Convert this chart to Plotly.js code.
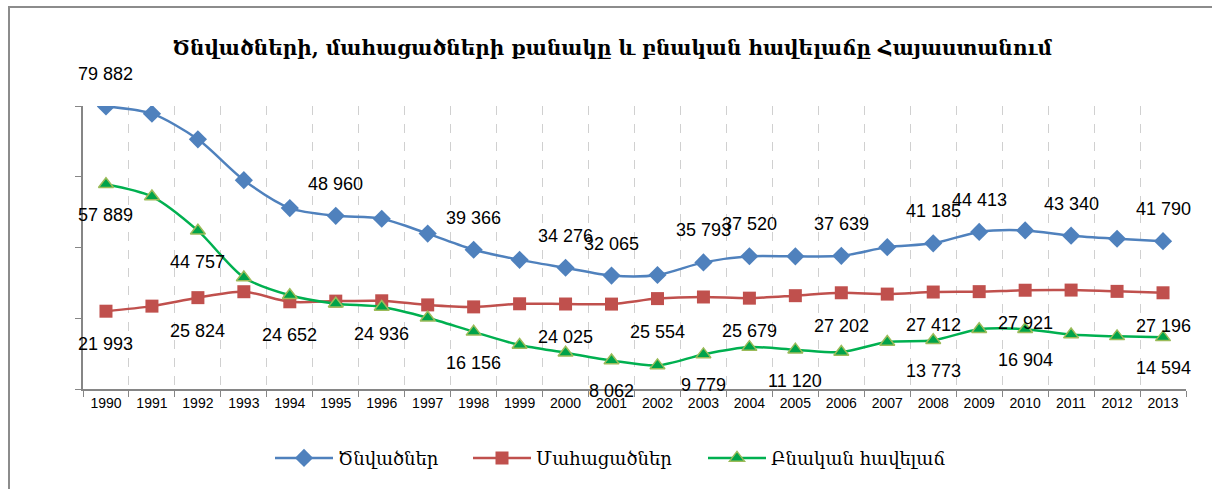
<!DOCTYPE html>
<html>
<head>
<meta charset="utf-8">
<script src="https://cdn.plot.ly/plotly-3.0.1.min.js"></script>
<style>
  html, body { margin: 0; padding: 0; background: #ffffff; }
  #chart { width: 1212px; height: 489px; }
  #frame { position: absolute; left: 8px; top: 6px; width: 1210px; height: 490px;
           border-left: 2px solid #8c8c8c; border-top: 2px solid #8c8c8c; pointer-events: none; }
</style>
</head>
<body>
<div id="chart"></div>
<div id="frame"></div>
<script>
// ---- data ----
const years = ['1990','1991','1992','1993','1994','1995','1996','1997','1998','1999','2000','2001',
               '2002','2003','2004','2005','2006','2007','2008','2009','2010','2011','2012','2013'];
const births = [79882, 77825, 70581, 59041, 51143, 48960, 48134, 43929, 39366, 36502, 34276, 32065,
                32229, 35793, 37520, 37499, 37639, 40105, 41185, 44413, 44825, 43340, 42480, 41790];
const deaths = [21993, 23425, 25824, 27500, 24652, 24842, 24936, 23773, 23210, 24087, 24025, 24003,
                25554, 26014, 25679, 26379, 27202, 26830, 27412, 27520, 27921, 27963, 27599, 27196];
const natural = [57889, 54400, 44757, 31541, 26491, 24118, 23198, 20156, 16156, 12415, 10251, 8062,
                 6675, 9779, 11841, 11120, 10437, 13275, 13773, 16893, 16904, 15377, 14881, 14594];

const seriesNames = ['Ծնվածներ', 'Մահացածներ', 'Բնական հավելաճ'];
const titleText = 'Ծնվածների, մահացածների քանակը և բնական հավելաճը Հայաստանում';

// years whose point carries a data label
const birthsLabelYears  = ['1990','1995','1998','2000','2001','2003','2004','2006','2008','2009','2011','2013'];
const deathsLabelYears  = ['1990','1992','1994','1996','2000','2002','2004','2006','2008','2010','2013'];
const naturalLabelYears = ['1990','1992','1998','2001','2003','2005','2008','2010','2013'];

// ---- helpers ----
function fmt(v) { return String(v).replace(/\B(?=(\d{3})+(?!\d))/g, ' '); }
const labelFont = { family: 'Liberation Sans, Arial, sans-serif', size: 18, color: '#000000' };
function labels(values, labelYears, shift) {
  return labelYears.map(function (yr) {
    const i = years.indexOf(yr);          // category index on the x axis
    return { x: i, y: values[i], xref: 'x', yref: 'y', text: fmt(values[i]),
             showarrow: false, yshift: shift, font: labelFont };
  });
}

const traces = [
  { x: years, y: births, name: seriesNames[0], type: 'scatter', mode: 'lines+markers', legend: 'legend',
    line: { color: '#4F81BD', width: 2.5, shape: 'spline', smoothing: 0.8 },
    marker: { symbol: 'diamond', size: 14, color: '#4F81BD', line: { color: '#4F81BD', width: 0 } } },
  { x: years, y: deaths, name: seriesNames[1], type: 'scatter', mode: 'lines+markers', legend: 'legend2',
    line: { color: '#C0504D', width: 2.5, shape: 'spline', smoothing: 0.8 },
    marker: { symbol: 'square', size: 13, color: '#C0504D', line: { color: '#C0504D', width: 0 } } },
  { x: years, y: natural, name: seriesNames[2], type: 'scatter', mode: 'lines+markers', legend: 'legend3',
    line: { color: '#00B050', width: 2.5, shape: 'spline', smoothing: 0.8 },
    marker: { symbol: 'triangle-up', size: 13, color: '#00A34A', line: { color: '#9BBB59', width: 1.5 } } }
];

const annotations = []
  .concat(labels(births, birthsLabelYears, 32))
  .concat(labels(deaths, deathsLabelYears, -33))
  .concat(labels(natural, naturalLabelYears, -31));

const legendFont = { family: 'DejaVu Serif, serif', size: 18, color: '#000000' };
function legendAt(px) {
  return { orientation: 'h', xref: 'container', x: px / 1212, xanchor: 'left',
           yref: 'container', y: 0.063, yanchor: 'middle', font: legendFont,
           itemwidth: 58, bgcolor: 'rgba(0,0,0,0)' };
}

const layout = {
  width: 1212, height: 489,
  margin: { l: 83, r: 26, t: 106, b: 100 },
  paper_bgcolor: '#ffffff', plot_bgcolor: '#ffffff',
  showlegend: true,
  title: { text: titleText, xref: 'container', x: 0.505, xanchor: 'center',
           yref: 'container', y: 0.902, yanchor: 'middle',
           font: { family: 'DejaVu Serif, serif', size: 20, color: '#000000', weight: 'bold' } },
  xaxis: {
    type: 'category', range: [-0.5, years.length - 0.5], autorange: false,
    tickson: 'boundaries', ticks: 'outside', ticklen: 6, tickcolor: '#868686',
    showline: true, linecolor: '#868686', linewidth: 2, tickangle: 0,
    showgrid: true, gridcolor: '#d0d0d0', griddash: 'dash', gridwidth: 1,
    tickfont: { family: 'Liberation Sans, Arial, sans-serif', size: 14, color: '#000000' },
    fixedrange: true
  },
  yaxis: {
    range: [0, 80000], autorange: false, dtick: 20000, tick0: 0, ticks: 'outside', ticklen: 6, tickcolor: '#868686',
    showline: true, linecolor: '#868686', linewidth: 2,
    showgrid: false, zeroline: false, showticklabels: false, fixedrange: true
  },
  legend: legendAt(270),
  legend2: legendAt(468),
  legend3: legendAt(703),
  annotations: annotations
};

Plotly.newPlot('chart', traces, layout, { displayModeBar: false, staticPlot: true });
</script>
</body>
</html>
